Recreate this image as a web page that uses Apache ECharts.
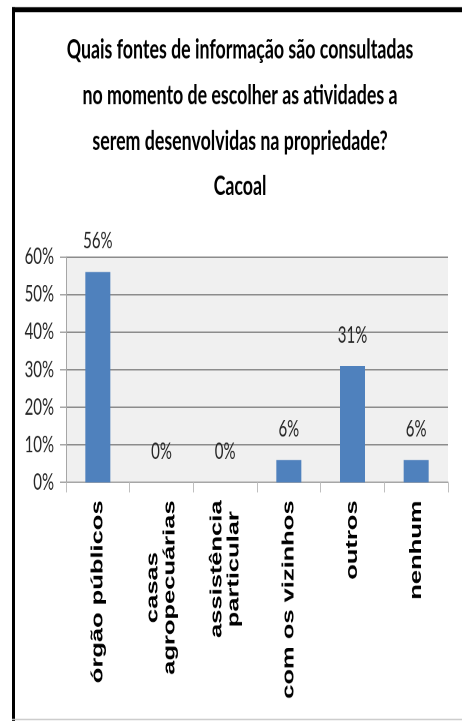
<!DOCTYPE html>
<html>
<head>
<meta charset="utf-8">
<script src="https://cdn.jsdelivr.net/npm/echarts@6/dist/echarts.min.js"></script>
<style>
html,body{margin:0;padding:0;background:#fff;overflow:hidden;}
#wrap{width:462px;height:721px;overflow:hidden;position:relative;}
#chart{width:462px;height:481px;transform:scaleY(1.5);transform-origin:0 0;}
</style>
</head>
<body>
<div id="wrap"><div id="chart"></div></div>
<script>
// Data
const titleLines = [
  'Quais fontes de informação são consultadas',
  'no momento de escolher as atividades a',
  'serem desenvolvidas na propriedade?',
  'Cacoal'
];
const categories = [
  'órgão públicos',
  'casas\nagropecuárias',
  'assistência\nparticular',
  'com os vizinhos',
  'outros',
  'nenhum'
];
const values = [56, 0, 0, 6, 31, 6];
const yTicks = { min: 0, max: 60, interval: 10 };

const chart = echarts.init(document.getElementById('chart'), null, { renderer: 'canvas', devicePixelRatio: 2 });

const labelFont = 'Lato, "Open Sans", sans-serif';

chart.setOption({
  animation: false,
  backgroundColor: '#ffffff',
  title: {
    text: titleLines.join('\n'),
    left: 240,
    top: 18.3,
    padding: 0,
    textAlign: 'center',
    textStyle: {
      fontFamily: labelFont,
      fontWeight: 'bold',
      fontSize: 17.8,
      lineHeight: 30.3,
      color: '#000000'
    }
  },
  graphic: [
    { type: 'rect', shape: { x: 12, y: 4.7, width: 450, height: 3.4 }, style: { fill: '#000' }, z: 100 },
    { type: 'rect', shape: { x: 12, y: 4.7, width: 3, height: 477 }, style: { fill: '#000' }, z: 100 },
    { type: 'rect', shape: { x: 12, y: 479.3, width: 450, height: 0.8 }, style: { fill: '#c8c8c8' }, z: 100 }
  ],
  grid: {
    left: 66,
    right: 14,
    top: 171.3,
    height: 150.3,
    show: true,
    backgroundColor: '#f0f0f0',
    borderWidth: 0
  },
  xAxis: {
    type: 'category',
    data: categories,
    axisLine: { show: true, lineStyle: { color: '#a6a6a6', width: 1 } },
    axisTick: { show: true, alignWithLabel: false, length: 6.7, lineStyle: { color: '#bfbfbf', width: 1 } },
    axisLabel: {
      interval: 0,
      rotate: 90,
      margin: 12,
      formatter: function (v) {
        return v.split('\n').map(function (s) { return '{c|' + s + '}'; }).join('\n');
      },
      rich: {
        c: {
          align: 'center',
          fontFamily: '"Liberation Sans", Arial, sans-serif',
          fontWeight: 'bold',
          fontSize: 17,
          lineHeight: 17,
          color: '#000000'
        }
      }
    }
  },
  yAxis: {
    type: 'value',
    min: yTicks.min,
    max: yTicks.max,
    interval: yTicks.interval,
    axisLine: { show: true, lineStyle: { color: '#a6a6a6', width: 1 } },
    axisTick: { show: true, length: 6, lineStyle: { color: '#a6a6a6' } },
    axisLabel: {
      formatter: '{value}%',
      margin: 12,
      fontFamily: labelFont,
      fontSize: 15,
      color: '#262626'
    },
    splitLine: { show: true, lineStyle: { color: '#8c8c8c', width: 1 } }
  },
  series: [{
    type: 'bar',
    data: values,
    barWidth: 25,
    itemStyle: { color: '#4f81bd' },
    label: {
      show: true,
      position: 'top',
      distance: 13,
      formatter: '{c}%',
      fontFamily: labelFont,
      fontSize: 15,
      color: '#262626'
    }
  }]
});
</script>
</body>
</html>
